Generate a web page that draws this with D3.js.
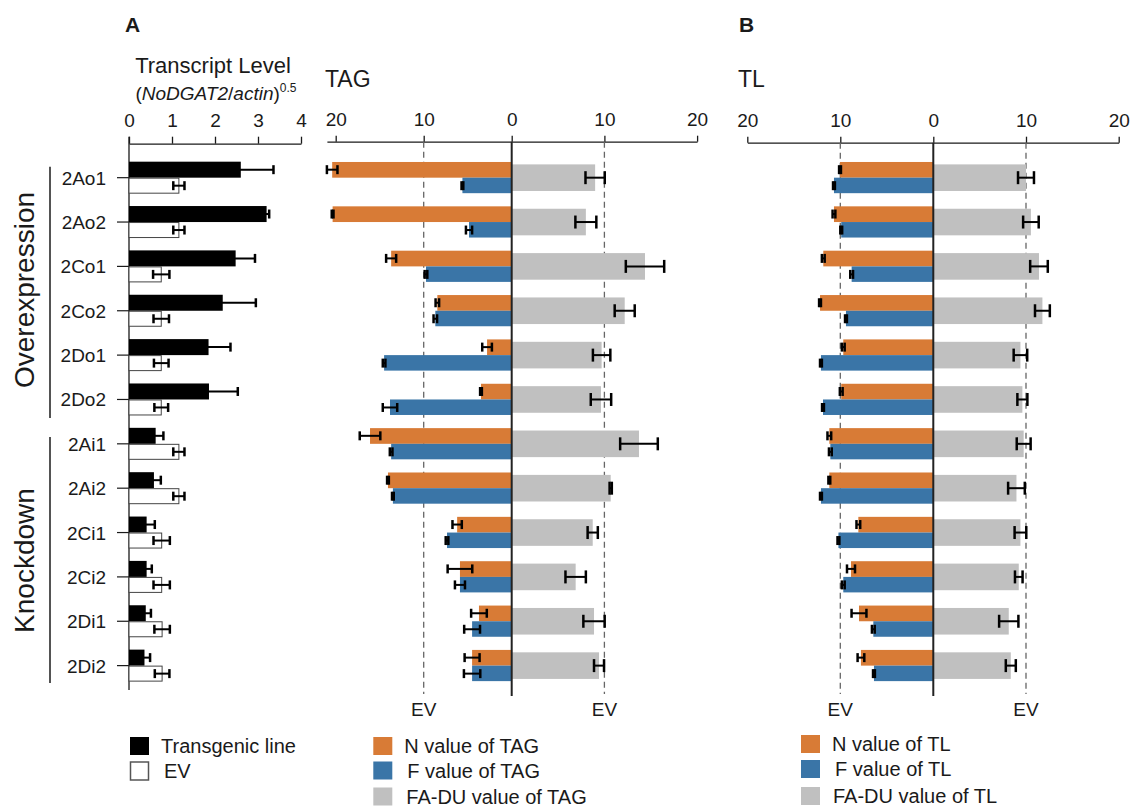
<!DOCTYPE html>
<html>
<head>
<meta charset="utf-8">
<script src="https://cdn.jsdelivr.net/npm/d3@7"></script>
<style>
  body { margin: 0; background: #fff; }
  svg { font-family: "Liberation Sans", Arial, sans-serif; }
  .axis text { font-size: 19px; fill: #1a1a1a; }
  .axis path, .axis line { stroke: #1a1a1a; stroke-width: 1.3; }
</style>
</head>
<body>
<div id="chart"></div>
<script>
// ---- data ----
const lines = ["2Ao1", "2Ao2", "2Co1", "2Co2", "2Do1", "2Do2",
               "2Ai1", "2Ai2", "2Ci1", "2Ci2", "2Di1", "2Di2"];

const transgenic     = [2.6, 3.2, 2.48, 2.18, 1.85, 1.86, 0.62, 0.58, 0.41, 0.41, 0.39, 0.36];
const transgenic_err = [0.76, 0.06, 0.45, 0.77, 0.51, 0.67, 0.18, 0.16, 0.19, 0.12, 0.12, 0.13];
const ev             = [1.16, 1.16, 0.75, 0.75, 0.75, 0.75, 1.16, 1.16, 0.76, 0.76, 0.77, 0.77];
const ev_err         = [0.13, 0.13, 0.19, 0.18, 0.17, 0.16, 0.13, 0.13, 0.19, 0.19, 0.18, 0.17];

const tag_n      = [20.4, 20.35, 13.7, 8.45, 2.8, 3.49, 16.1, 14.06, 6.2, 5.88, 3.72, 4.5];
const tag_n_err  = [0.6, 0.1, 0.57, 0.2, 0.55, 0.1, 1.17, 0.1, 0.53, 1.4, 0.89, 0.85];
const tag_f      = [5.6, 4.85, 9.74, 8.68, 14.5, 13.83, 13.7, 13.5, 7.35, 5.88, 4.5, 4.5];
const tag_f_err  = [0.1, 0.35, 0.15, 0.2, 0.15, 0.82, 0.15, 0.1, 0.15, 0.57, 0.9, 0.93];
const tag_du     = [9.0, 8.0, 14.38, 12.19, 9.7, 9.63, 13.73, 10.68, 8.74, 6.9, 8.88, 9.42];
const tag_du_err = [1.04, 1.13, 2.07, 1.08, 0.94, 1.1, 2.03, 0.12, 0.55, 1.1, 1.15, 0.54];

const tl_n      = [10.03, 10.68, 11.83, 12.18, 9.68, 9.9, 11.18, 11.18, 8.06, 8.85, 7.99, 7.78];
const tl_n_err  = [0.1, 0.15, 0.15, 0.1, 0.15, 0.15, 0.2, 0.1, 0.2, 0.43, 0.8, 0.36];
const tl_f      = [10.68, 9.9, 8.78, 9.39, 12.08, 11.86, 11.07, 12.08, 10.2, 9.68, 6.45, 6.38];
const tl_f_err  = [0.1, 0.1, 0.15, 0.1, 0.1, 0.1, 0.15, 0.1, 0.1, 0.15, 0.15, 0.1];
const tl_du     = [10.0, 10.53, 11.4, 11.77, 9.4, 9.61, 9.75, 8.97, 9.4, 9.22, 8.14, 8.36];
const tl_du_err = [0.86, 0.84, 0.95, 0.8, 0.73, 0.54, 0.75, 0.9, 0.63, 0.41, 1.04, 0.54];

const level_ticks = [0, 1, 2, 3, 4];
const side_ticks = [20, 10, 0];

const __CONFIG__ = {
  width: 1130,
  height: 806,
  orange: "#D87B36",
  blue: "#3A75A7",
  gray: "#C0C0C0",
  ink: "#1a1a1a"
};

const svg = d3.select("#chart").append("svg")
  .attr("width", __CONFIG__.width)
  .attr("height", __CONFIG__.height);

const y = d3.scaleBand().domain(lines).range([155.5, 687.8]);
const mid = d => y(d) + y.bandwidth() / 2;

function text(x, yy, str, size, opts = {}) {
  return svg.append("text")
    .attr("x", x).attr("y", yy)
    .attr("font-size", size)
    .attr("fill", __CONFIG__.ink)
    .attr("text-anchor", opts.anchor || "start")
    .attr("font-weight", opts.bold ? "bold" : null)
    .text(str);
}

// horizontal error bar centred on the bar end
function err_bars(g, rows, cap) {
  const e = g.selectAll(null).data(rows).join("g").attr("class", "err")
    .attr("stroke", "#000");
  e.append("line")
    .attr("x1", d => d.lo).attr("x2", d => d.hi)
    .attr("y1", d => d.y).attr("y2", d => d.y)
    .attr("stroke-width", 2);
  e.append("line")
    .attr("x1", d => d.lo).attr("x2", d => d.lo)
    .attr("y1", d => d.y - cap / 2).attr("y2", d => d.y + cap / 2)
    .attr("stroke-width", 2.5);
  e.append("line")
    .attr("x1", d => d.hi).attr("x2", d => d.hi)
    .attr("y1", d => d.y - cap / 2).attr("y2", d => d.y + cap / 2)
    .attr("stroke-width", 2.5);
}

// ---- panel A, transcript level ----
function draw_level() {
  const x = d3.scaleLinear().domain([0, 4]).range([129, 301]);
  const g = svg.append("g");

  g.append("g").attr("class", "axis")
    .attr("transform", "translate(0,143.7)")
    .call(d3.axisTop(x).tickValues(level_ticks).tickFormat(d3.format("d"))
      .tickSize(7).tickSizeOuter(0).tickPadding(10));

  g.append("line")
    .attr("x1", x(0)).attr("x2", x(0)).attr("y1", 136.7).attr("y2", 690)
    .attr("stroke", __CONFIG__.ink).attr("stroke-width", 1.3);

  g.selectAll("line.ytick").data(lines).join("line")
    .attr("class", "ytick")
    .attr("x1", x(0) - 12).attr("x2", x(0))
    .attr("y1", mid).attr("y2", mid)
    .attr("stroke", __CONFIG__.ink).attr("stroke-width", 1.2);

  g.selectAll("text.row").data(lines).join("text")
    .attr("class", "row")
    .attr("x", 106).attr("y", d => mid(d) + 7)
    .attr("text-anchor", "end")
    .attr("font-size", 19).attr("fill", __CONFIG__.ink)
    .text(d => d);

  g.selectAll("rect.tg").data(lines).join("rect")
    .attr("class", "tg")
    .attr("x", x(0)).attr("y", d => mid(d) - 16)
    .attr("width", (d, i) => x(transgenic[i]) - x(0)).attr("height", 16)
    .attr("fill", "#000");

  g.selectAll("rect.ev").data(lines).join("rect")
    .attr("class", "ev")
    .attr("x", x(0)).attr("y", d => mid(d) + 0.5)
    .attr("width", (d, i) => x(ev[i]) - x(0)).attr("height", 15)
    .attr("fill", "#fff").attr("stroke", "#444").attr("stroke-width", 1);

  err_bars(g, lines.map((d, i) => ({
    y: mid(d) - 8, lo: x(transgenic[i] - transgenic_err[i]), hi: x(transgenic[i] + transgenic_err[i])
  })), 9);
  err_bars(g, lines.map((d, i) => ({
    y: mid(d) + 8, lo: x(ev[i] - ev_err[i]), hi: x(ev[i] + ev_err[i])
  })), 9);

  // group brackets
  const groups = [
    { name: "Overexpression", y0: 166.7, y1: 418, c: 290 },
    { name: "Knockdown", y0: 437, y1: 683, c: 560.5 }
  ];
  for (const grp of groups) {
    svg.append("line")
      .attr("x1", 50).attr("x2", 50).attr("y1", grp.y0).attr("y2", grp.y1)
      .attr("stroke", __CONFIG__.ink).attr("stroke-width", 1.5);
    svg.append("text")
      .attr("transform", `translate(33.5,${grp.c}) rotate(-90)`)
      .attr("text-anchor", "middle")
      .attr("font-size", 28).attr("fill", __CONFIG__.ink)
      .text(grp.name);
  }

  text(213, 73, "Transcript Level", 22, { anchor: "middle" });
  const sub = svg.append("text")
    .attr("x", 216).attr("y", 100)
    .attr("text-anchor", "middle")
    .attr("font-size", 19).attr("fill", __CONFIG__.ink);
  sub.append("tspan").text("(");
  sub.append("tspan").attr("font-style", "italic").text("NoDGAT2");
  sub.append("tspan").text("/");
  sub.append("tspan").attr("font-style", "italic").text("actin");
  sub.append("tspan").text(")");
  sub.append("tspan").attr("font-size", 12).attr("dy", -8).text("0.5");
}

// ---- panels with N / F to the left and FA-DU to the right ----
function draw_split(opt) {
  const g = svg.append("g");
  const xl = d3.scaleLinear().domain([opt.left_max, 0]).range([opt.x0 - opt.left_max * opt.kl, opt.x0]);
  const xr = d3.scaleLinear().domain([0, 20]).range([opt.x0, opt.x0 + 20 * opt.kr]);
  const ay = opt.axis_y;

  g.append("g").attr("class", "axis")
    .attr("transform", `translate(0,${ay})`)
    .call(d3.axisTop(xl).tickValues(side_ticks).tickSize(6).tickSizeOuter(0).tickPadding(10));
  g.append("g").attr("class", "axis")
    .attr("transform", `translate(0,${ay})`)
    .call(d3.axisTop(xr).tickValues([10, 20]).tickSize(6).tickSizeOuter(0).tickPadding(10));

  // EV reference lines
  const refs = [xl(10), xr(10)];
  g.selectAll("line.ref").data(refs).join("line")
    .attr("class", "ref")
    .attr("x1", d => d).attr("x2", d => d)
    .attr("y1", ay).attr("y2", 694)
    .attr("stroke", "#666").attr("stroke-width", 1.3)
    .attr("stroke-dasharray", "6,4");
  g.selectAll("text.ev").data(refs).join("text")
    .attr("class", "ev")
    .attr("x", d => d).attr("y", 716)
    .attr("text-anchor", "middle")
    .attr("font-size", 19).attr("fill", __CONFIG__.ink)
    .text("EV");

  g.selectAll("rect.n").data(lines).join("rect")
    .attr("class", "n")
    .attr("x", (d, i) => xl(opt.n[i])).attr("y", d => mid(d) - 15.7)
    .attr("width", (d, i) => opt.x0 - xl(opt.n[i])).attr("height", 15.7)
    .attr("fill", __CONFIG__.orange);
  g.selectAll("rect.f").data(lines).join("rect")
    .attr("class", "f")
    .attr("x", (d, i) => xl(opt.f[i])).attr("y", d => mid(d))
    .attr("width", (d, i) => opt.x0 - xl(opt.f[i])).attr("height", 15.5)
    .attr("fill", __CONFIG__.blue);
  g.selectAll("rect.du").data(lines).join("rect")
    .attr("class", "du")
    .attr("x", opt.x0).attr("y", d => mid(d) - 13.3)
    .attr("width", (d, i) => xr(opt.du[i]) - opt.x0).attr("height", 26.6)
    .attr("fill", __CONFIG__.gray);

  g.append("line")
    .attr("x1", opt.x0).attr("x2", opt.x0).attr("y1", ay).attr("y2", 696)
    .attr("stroke", "#222").attr("stroke-width", 2);

  err_bars(g, lines.map((d, i) => ({
    y: mid(d) - 8, lo: xl(opt.n[i] + opt.n_err[i]), hi: xl(opt.n[i] - opt.n_err[i])
  })), 9);
  err_bars(g, lines.map((d, i) => ({
    y: mid(d) + 8, lo: xl(opt.f[i] + opt.f_err[i]), hi: xl(opt.f[i] - opt.f_err[i])
  })), 9);
  err_bars(g, lines.map((d, i) => ({
    y: mid(d), lo: xr(opt.du[i] - opt.du_err[i]), hi: xr(opt.du[i] + opt.du_err[i])
  })), 13);

  text(opt.title_x, 86.5, opt.title, 23);

  // legend
  const leg = [
    { c: __CONFIG__.orange, t: `N value of ${opt.title}` },
    { c: __CONFIG__.blue, t: `F value of ${opt.title}` },
    { c: __CONFIG__.gray, t: `FA-DU value of ${opt.title}` }
  ];
  leg.forEach((l, i) => {
    svg.append("rect")
      .attr("x", opt.leg_x).attr("y", opt.leg_y[i])
      .attr("width", 19).attr("height", 18)
      .attr("fill", l.c);
    text(opt.leg_x + opt.leg_dx[i], opt.leg_y[i] + 16, l.t, 20);
  });
}

draw_level();

draw_split({
  title: "TAG", title_x: 325,
  x0: 511.7, kl: 8.8, kr: 9.27, left_max: 21, axis_y: 141.7,
  n: tag_n, n_err: tag_n_err, f: tag_f, f_err: tag_f_err, du: tag_du, du_err: tag_du_err,
  leg_x: 373.3, leg_y: [737, 761.5, 787.5], leg_dx: [31, 34, 33]
});

draw_split({
  title: "TL", title_x: 738,
  x0: 933.3, kl: 9.3, kr: 9.27, left_max: 20, axis_y: 142.7,
  n: tl_n, n_err: tl_n_err, f: tl_f, f_err: tl_f_err, du: tl_du, du_err: tl_du_err,
  leg_x: 801, leg_y: [735, 760, 787], leg_dx: [31, 34, 32]
});

// left legend
svg.append("rect").attr("x", 130).attr("y", 737).attr("width", 19).attr("height", 18).attr("fill", "#000");
text(161, 753, "Transgenic line", 20);
svg.append("rect").attr("x", 130.5).attr("y", 762).attr("width", 18).attr("height", 18)
  .attr("fill", "#fff").attr("stroke", "#555").attr("stroke-width", 1.5);
text(164, 777.5, "EV", 20);

text(125, 32, "A", 21, { bold: true });
text(739, 32, "B", 21, { bold: true });
</script>
</body>
</html>
